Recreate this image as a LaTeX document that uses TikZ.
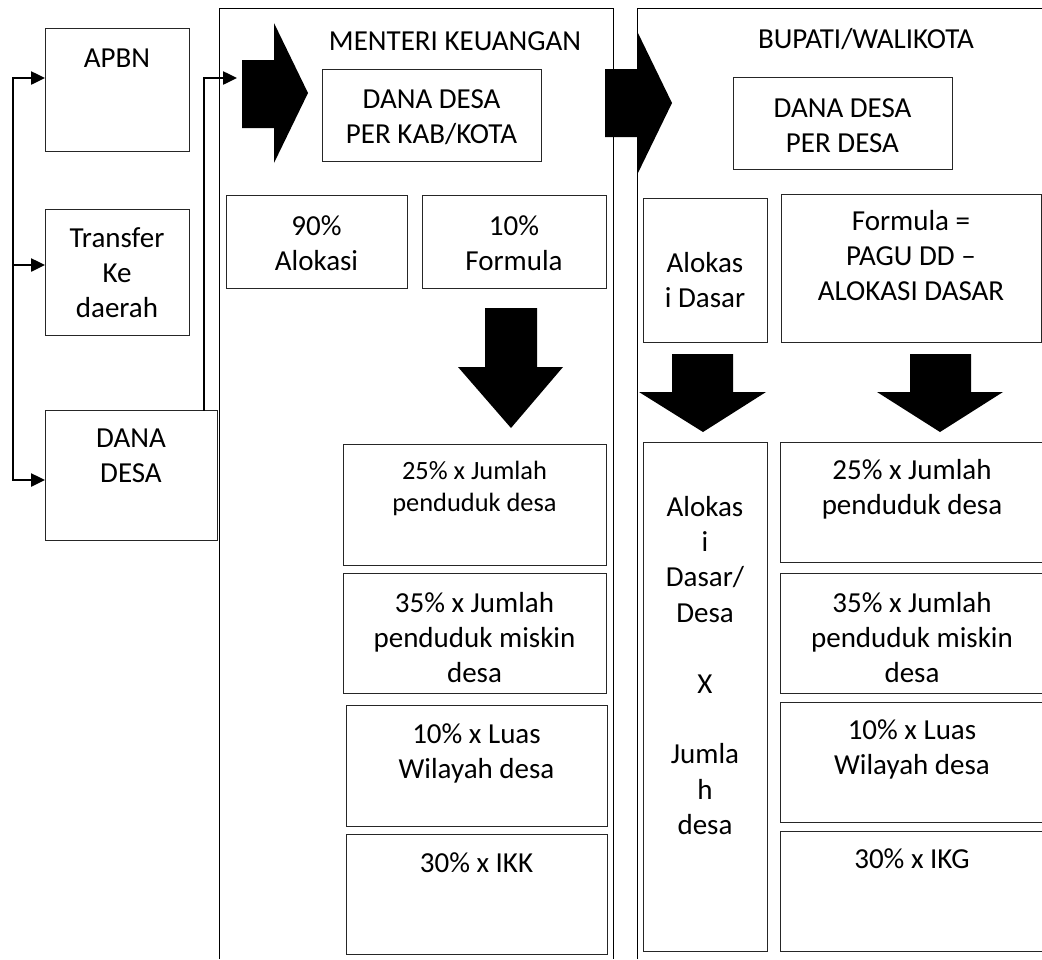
\documentclass[tikz,border=0pt]{standalone}
\usepackage{fontspec}
\setmainfont{Carlito}
\usetikzlibrary{arrows.meta}
\newcommand\tb[8][]{%
  \pgfmathsetmacro\tbw{#5-#3}%
  \pgfmathsetmacro\tbd{#6-#4-#7}%
  \node[tbox, text width=\tbw pt, text height=#7pt, text depth=\tbd pt, #1] (#2) at (#3,#4) {#8};}
\begin{document}
\begin{tikzpicture}[x=1pt,y=-1pt,
  txt/.style={font=\fontsize{29}{35.4}\selectfont},
  smalltxt/.style={font=\fontsize{26.4}{32.4}\selectfont},
  tbox/.style={txt, draw=black!85, line width=1pt, inner sep=0pt, outer sep=0pt,
    minimum width=0pt, minimum height=0pt, anchor=north west, align=flush center},
  panel/.style={draw=black, line width=1pt},
  conn/.style={line width=2.5pt, line cap=rect, -{Triangle[length=14pt,width=13pt]}},
  bigarrow/.style={fill=black}]
\useasboundingbox (0,0) rectangle (1042,959);

% panels
\draw[panel] (219,959) -- (219,8) -- (613,8) -- (613,959);
\draw[panel] (637,959) -- (637,8) -- (1042,8);
\node[txt, anchor=base] (t1) at (455,50) {MENTERI KEUANGAN};
\node[txt, anchor=base] (t2) at (866,48) {BUPATI/WALIKOTA};

% left column
\tb{apbn}{45}{28}{189}{151}{39}{APBN}
\tb{transfer}{45}{209}{189}{335}{38}{Transfer\\Ke\\daerah}
\tb{danadesa}{45}{410}{217}{540}{37}{DANA\\DESA}

% panel 1
\tb{kab}{322}{69}{541}{161}{39}{DANA DESA\\PER KAB/KOTA}
\tb{alok}{226}{195}{407}{288}{40}{90\%\\Alokasi}
\tb{form}{422}{195}{606}{288}{40}{10\%\\Formula}
\tb[smalltxt]{pa}{343}{444}{606}{565}{35}{25\% x Jumlah\\penduduk desa}
\tb{pb}{343}{573}{606}{693}{39}{35\% x Jumlah\\penduduk miskin\\desa}
\tb{pc}{346}{705}{607}{826}{38}{10\% x Luas\\Wilayah desa}
\tb{pd}{346}{834}{607}{954}{38}{30\% x IKK}

% panel 2
\tb{perdesa}{733}{77}{952}{169}{40}{DANA DESA\\PER DESA}
\tb{ad}{643}{198}{767}{342}{74}{Alokas\\i Dasar}
\tb{rumus}{781}{194}{1041}{342}{36}{Formula =\\PAGU DD –\\ALOKASI DASAR}
\tb{adx}{643}{442}{767}{951}{74}{Alokas\\i\\Dasar/\\Desa\\~\\X\\~\\Jumla\\h\\desa}
\tb{qa}{780}{442}{1044}{562}{37}{25\% x Jumlah\\penduduk desa}
\tb{qb}{780}{573}{1044}{693}{39}{35\% x Jumlah\\penduduk miskin\\desa}
\tb{qc}{780}{702}{1044}{822}{37}{10\% x Luas\\Wilayah desa}
\tb{qd}{780}{831}{1044}{951}{37}{30\% x IKG}

% big block arrows
\fill[bigarrow] (242,60) -- (274,60) -- (274,23) -- (308,93) -- (274,163) -- (274,128) -- (242,128) -- cycle;
\fill[bigarrow] (605,69) -- (637,69) -- (637,31) -- (672,103) -- (637,175) -- (637,137) -- (605,137) -- cycle;
\fill[bigarrow] (485,308) -- (537,308) -- (537,367) -- (563,367) -- (511,428) -- (458,367) -- (485,367) -- cycle;
\fill[bigarrow] (672,354) -- (733,354) -- (733,392) -- (766,392) -- (703,432) -- (639,392) -- (672,392) -- cycle;
\fill[bigarrow] (910,354) -- (971,354) -- (971,392) -- (1003,392) -- (940,432) -- (877,392) -- (910,392) -- cycle;

% connectors
\coordinate (L1) at (13,78);
\coordinate (L2) at (13,265);
\coordinate (L3) at (13,480);
\draw[conn] (L1) -- (L3) -- (danadesa.west |- L3);
\draw[conn] (L1) -- (apbn.west |- L1);
\draw[conn] (L2) -- (transfer.west |- L2);
\coordinate (d1) at (204,78);
\coordinate (c2) at (237,78);
\draw[conn] (danadesa.north -| d1) -- (d1) -- (c2);
\end{tikzpicture}
\end{document}
